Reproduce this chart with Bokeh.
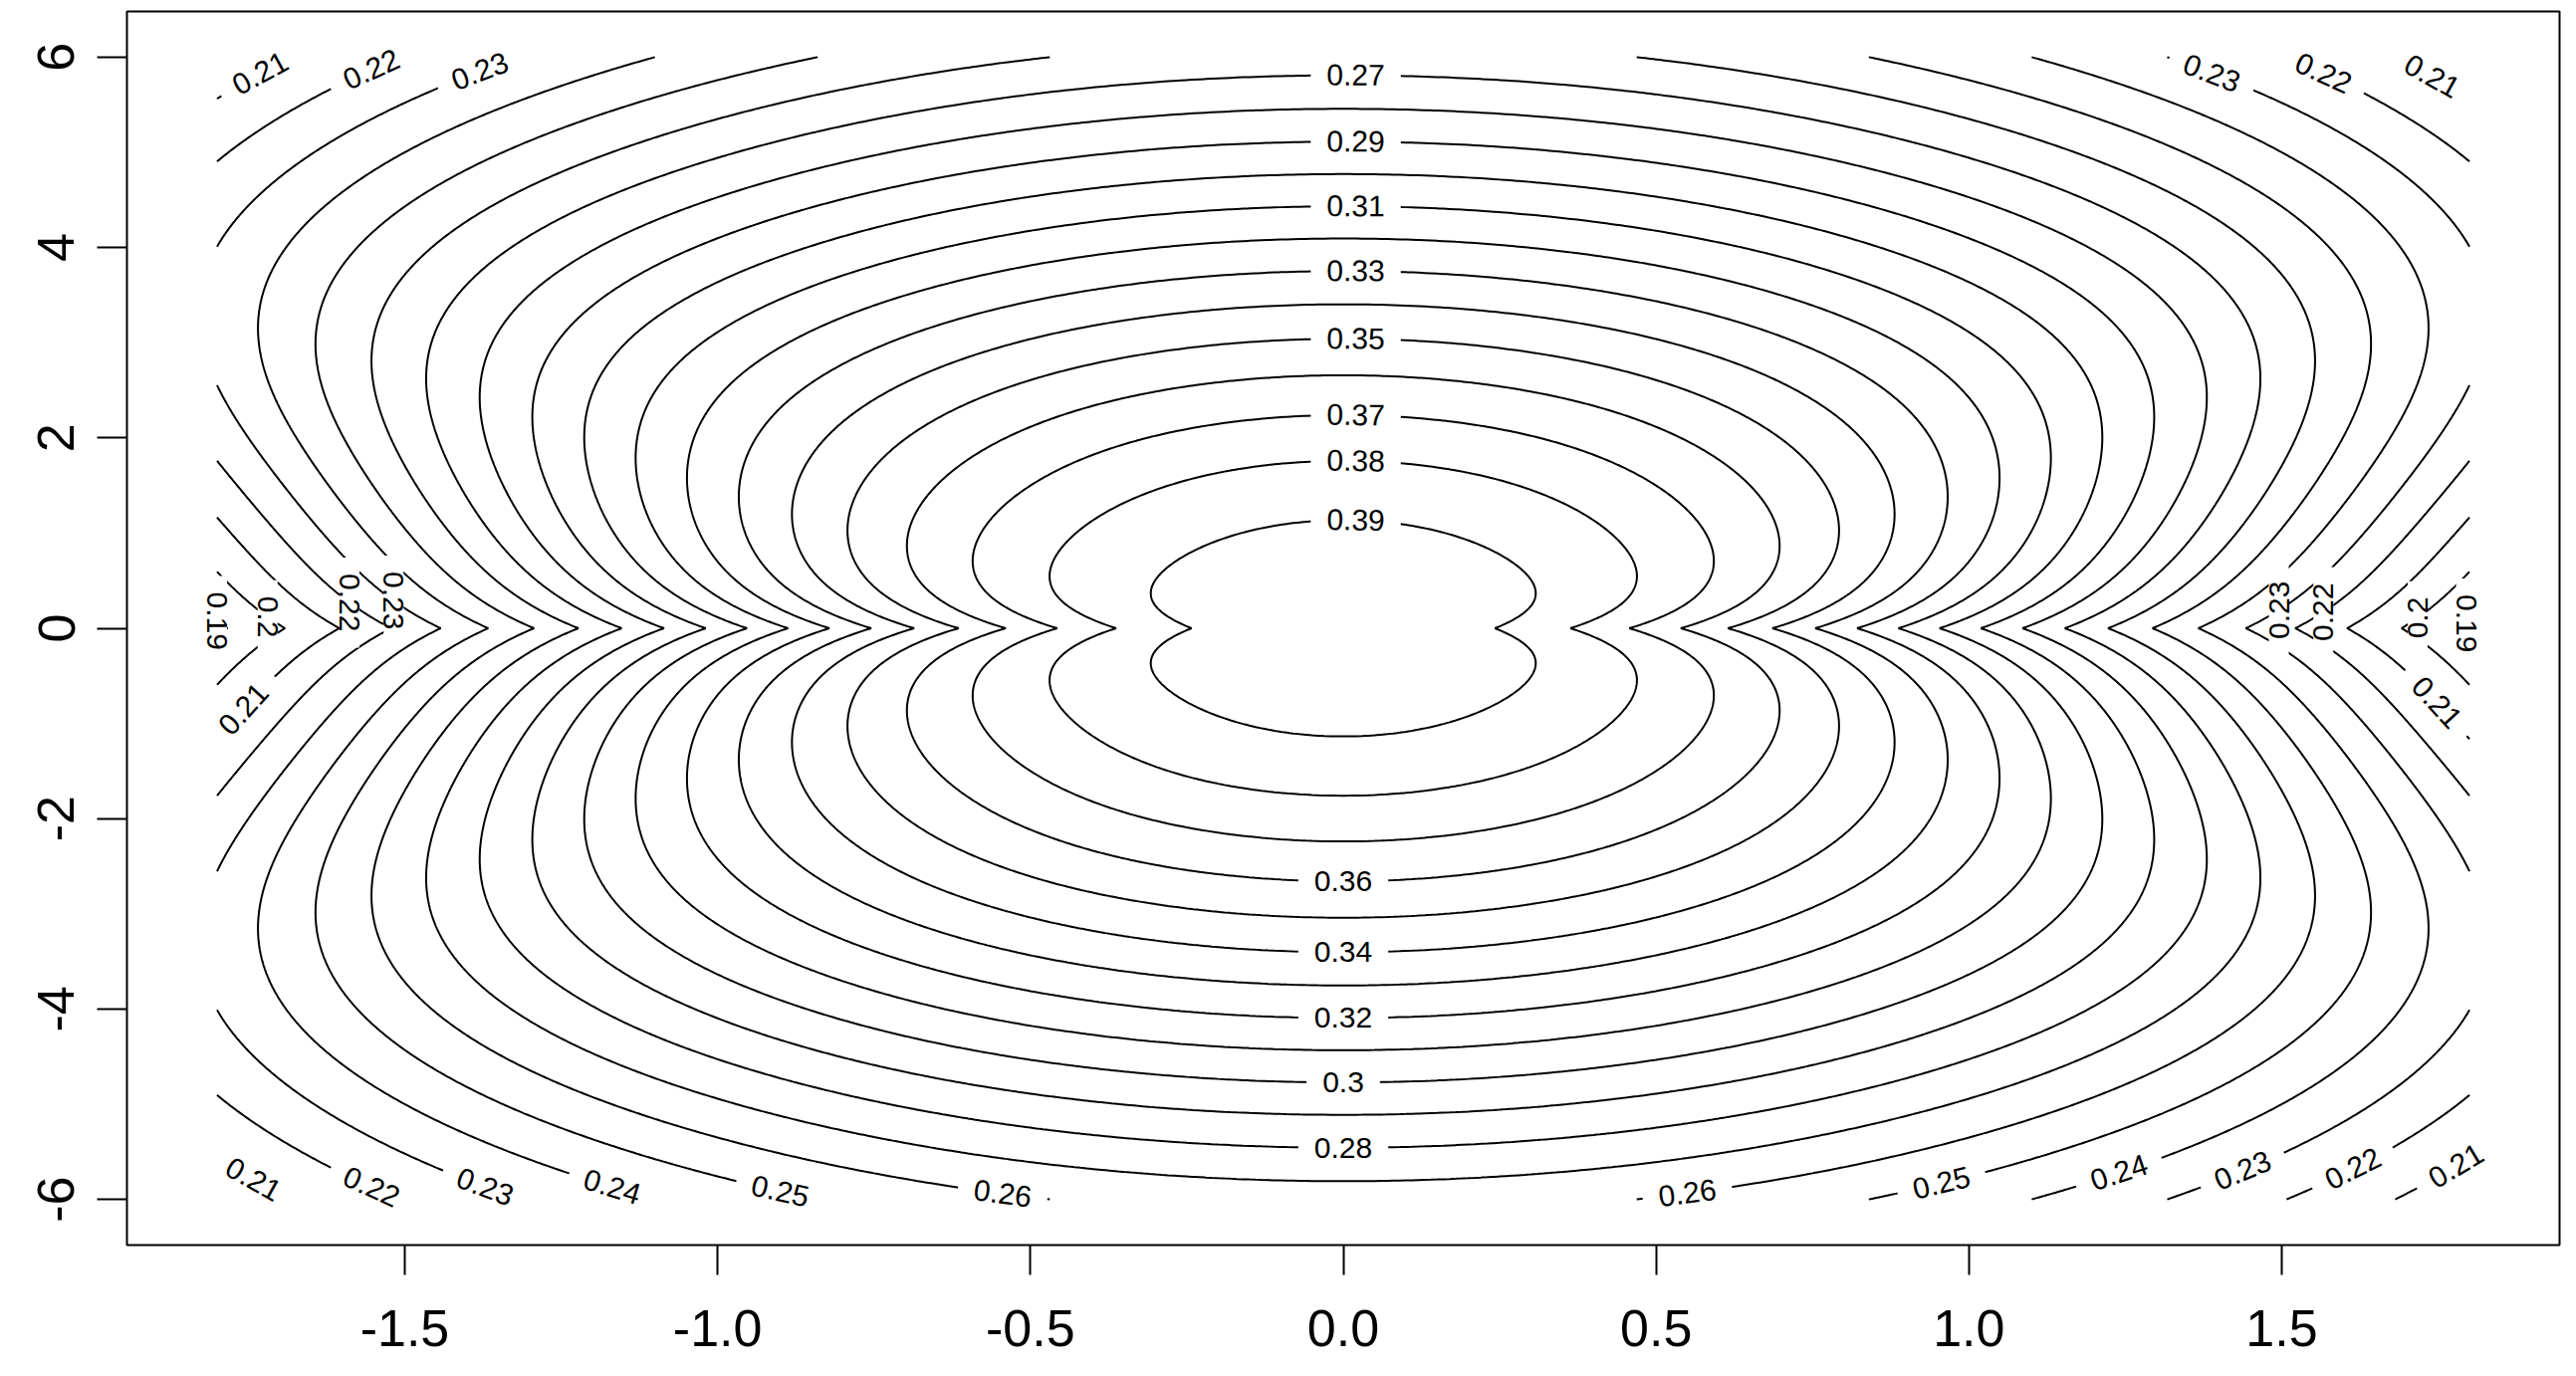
import numpy as np
import contourpy
from bokeh.plotting import figure
from bokeh.models import FixedTicker, Range1d
from bokeh.embed import file_html
from bokeh.resources import INLINE
from bokeh.core.properties import value

# ---------------- data ----------------
x_ticks = [-1.5, -1.0, -0.5, 0.0, 0.5, 1.0, 1.5]
x_tick_labels = ["-1.5", "-1.0", "-0.5", "0.0", "0.5", "1.0", "1.5"]
y_ticks = [-6, -4, -2, 0, 2, 4, 6]
y_tick_labels = ["-6", "-4", "-2", "0", "2", "4", "6"]
x_limits = [-1.8, 1.8]
y_limits = [-6.0, 6.0]
levels = [0.19, 0.20, 0.21, 0.22, 0.23, 0.24, 0.25, 0.26, 0.27, 0.28, 0.29,
          0.30, 0.31, 0.32, 0.33, 0.34, 0.35, 0.36, 0.37, 0.38, 0.39]

# surface parameters
peak_value = [0.3975, 0.001, 0.6]       # height at x = 0 and its small tip at y = 0
peak_decay = [50.0, 0.75]               # f(0, y) ~ 1 / (1 + y^2/c)^p
tail_at_y0 = [0.853, 2.3]               # f(x, 0) ~ (1 + x^2/c)^-p
width_far = [0.065, 0.105, 3.0, 2.5]    # Gaussian width coefficient away from y = 0
cusp_scale = [0.15, 0.45]               # how fast the y = 0 crease fades

# contour labels as R placed them: level, approximate x, approximate y
label_levels = [0.27, 0.29, 0.31, 0.33, 0.35, 0.37, 0.38, 0.39,
                0.36, 0.34, 0.32, 0.30, 0.28,
                0.21, 0.22, 0.23, 0.23, 0.22, 0.21,
                0.21, 0.22, 0.23, 0.24, 0.25, 0.26,
                0.26, 0.25, 0.24, 0.23, 0.22, 0.21,
                0.19, 0.20, 0.22, 0.23, 0.21,
                0.23, 0.22, 0.20, 0.19, 0.21]
label_x = [0.02, 0.02, 0.02, 0.02, 0.02, 0.02, 0.02, 0.02,
           0.0, 0.0, 0.0, 0.0, 0.0,
           -1.73, -1.55, -1.38, 1.384, 1.56, 1.73,
           -1.737, -1.55, -1.37, -1.17, -0.90, -0.545,
           0.547, 0.955, 1.245, 1.442, 1.62, 1.78,
           -1.82, -1.71, -1.585, -1.505, -1.73,
           1.495, 1.567, 1.71, 1.80, 1.724]
label_y = [5.8, 5.1, 4.45, 3.75, 3.03, 2.2, 1.71, 1.12,
           -2.62, -3.38, -4.1, -4.78, -5.44,
           5.80, 5.82, 5.85, 5.80, 5.72, 5.68,
           -5.72, -5.82, -5.85, -5.89, -5.92, -5.98,
           -5.92, -5.85, -5.82, -5.79, -5.75, -5.68,
           0.05, 0.2, 0.3, 0.4, -1.02,
           0.19, 0.17, 0.19, 0.01, -0.93]
# orientation: 0 = along the line, -1 = reads downwards, +1 = reads upwards
label_turn = [0] * 31 + [-1, -1, -1, -1, 0,
                         1, 1, 1, -1, 0]


def surface(X, Y):
    t = np.abs(Y)
    a = (peak_value[0] * (1.0 + t ** 2 / peak_decay[0]) ** (-peak_decay[1])
         + peak_value[1] * np.exp(-(t / peak_value[2]) ** 2))
    u = X ** 2 / tail_at_y0[1]
    g = np.where(u > 1e-12, np.log1p(u) / np.maximum(u, 1e-12), 1.0)
    b0 = tail_at_y0[0] * g / tail_at_y0[1]
    bf = width_far[0] + width_far[1] / (1.0 + (t / width_far[2]) ** width_far[3])
    bf0 = width_far[0] + width_far[1]
    tau = cusp_scale[0] + cusp_scale[1] * X ** 2
    b = bf + (b0 - bf0) * np.exp(-t / tau)
    return a * np.exp(-X ** 2 * b)


xs = np.linspace(x_limits[0], x_limits[1], 361)
ys = np.linspace(y_limits[0], y_limits[1], 1201)
XX, YY = np.meshgrid(xs, ys)
ZZ = surface(XX, YY)

pad_x = 0.04 * (x_limits[1] - x_limits[0])
pad_y = 0.04 * (y_limits[1] - y_limits[0])

frame_w, frame_h = 2443, 1239
p = figure(width=127 + frame_w + 9, height=11 + frame_h + 126,
           output_backend="svg", toolbar_location=None,
           x_range=Range1d(x_limits[0] - pad_x, x_limits[1] + pad_x),
           y_range=Range1d(y_limits[0] - pad_y, y_limits[1] + pad_y),
           min_border_left=127, min_border_right=9, min_border_top=11, min_border_bottom=126)
p.background_fill_color = "white"
p.border_fill_color = "white"
p.outline_line_color = "black"
p.outline_line_width = 2
p.xgrid.visible = False
p.ygrid.visible = False

p.contour(x=xs, y=ys, z=ZZ, levels=levels, line_color="black", line_width=2)

# label placement on the computed contours
gen = contourpy.contour_generator(x=xs, y=ys, z=ZZ, line_type="Separate")
sx = frame_w / (2 * (x_limits[1] + pad_x))
sy = frame_h / (2 * (y_limits[1] + pad_y))
lx, ly, lt, la = [], [], [], []
for lev, hx, hy, turn in zip(label_levels, label_x, label_y, label_turn):
    best = None
    for line in gen.lines(lev):
        d2 = ((line[:, 0] - hx) * sx) ** 2 + ((line[:, 1] - hy) * sy) ** 2
        i = int(np.argmin(d2))
        if best is None or d2[i] < best[0]:
            best = (d2[i], line, i)
    _, line, i = best
    j0, j1 = max(i - 4, 0), min(i + 4, len(line) - 1)
    dx = (line[j1, 0] - line[j0, 0]) * sx
    dy = (line[j1, 1] - line[j0, 1]) * sy
    ang = np.arctan2(dy, dx)
    if ang > np.pi / 2:
        ang -= np.pi
    if ang <= -np.pi / 2:
        ang += np.pi
    if turn != 0:
        ang = turn * np.pi / 2
    lx.append(float(line[i, 0]))
    ly.append(float(line[i, 1]))
    lt.append(f"{lev:g}")
    la.append(float(ang))

p.text(x=lx, y=ly, text=lt, angle=la, text_font=value("Liberation Sans"),
       text_font_size="30px", text_color="black", text_align="center",
       text_baseline="middle", background_fill_color="white",
       padding=dict(left=16, right=16, top=0, bottom=0))

for ax_, ticks, labels in ((p.xaxis, x_ticks, x_tick_labels), (p.yaxis, y_ticks, y_tick_labels)):
    ax_.ticker = FixedTicker(ticks=ticks)
    ax_.major_label_overrides = {float(k): v for k, v in zip(ticks, labels)}
    ax_.axis_line_color = None
    ax_.major_tick_out = 30
    ax_.major_tick_in = 0
    ax_.major_tick_line_width = 2
    ax_.major_tick_line_color = "black"
    ax_.minor_tick_line_color = None
    ax_.major_label_text_font = "Liberation Sans"
    ax_.major_label_text_font_size = "52px"
    ax_.major_label_text_color = "black"
p.xaxis.major_label_standoff = 35
p.yaxis.major_label_standoff = 23
p.yaxis.major_label_orientation = "vertical"

open("out.html", "w").write(file_html(p, INLINE))
